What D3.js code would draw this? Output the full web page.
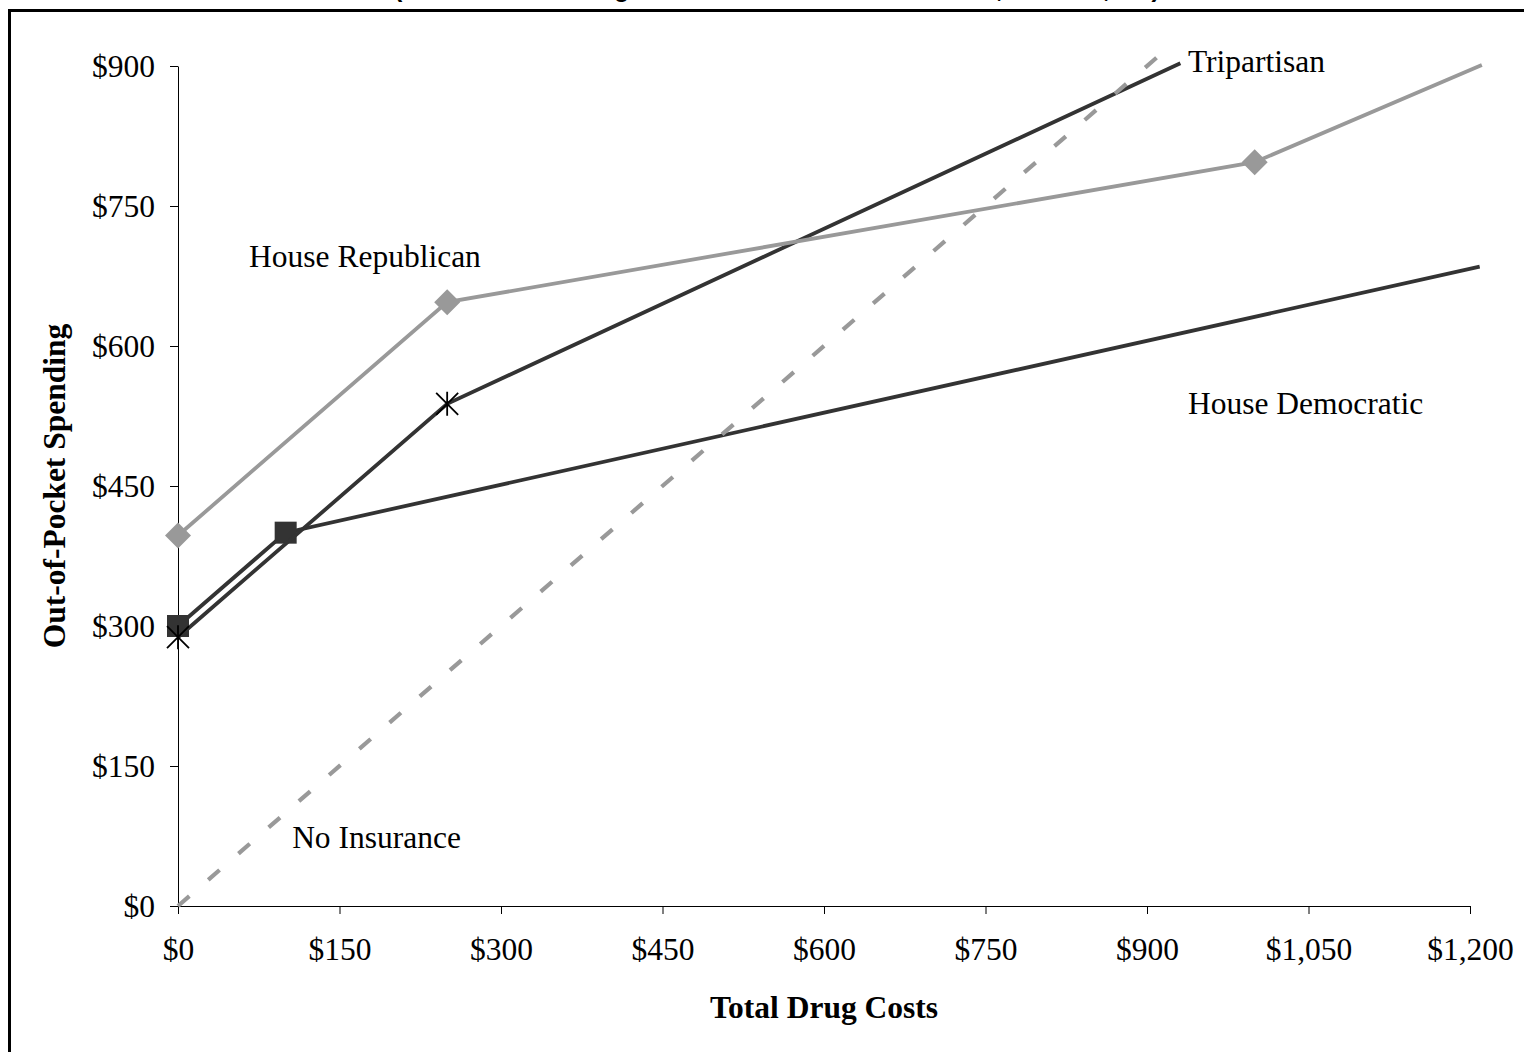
<!DOCTYPE html>
<html>
<head>
<meta charset="utf-8">
<script src="https://cdn.jsdelivr.net/npm/d3@7"></script>
<style>
  body { margin: 0; background: #fff; }
  svg { display: block; }
  .tick text { font-family: "Liberation Serif", "Times New Roman", serif; font-size: 31.5px; fill: #000; }
  .axis path, .axis line { stroke: #000; stroke-width: 1; }
  .series-label { font-family: "Liberation Serif", "Times New Roman", serif; font-size: 31.5px; fill: #000; }
  .axis-title { font-family: "Liberation Serif", "Times New Roman", serif; font-size: 31.5px; font-weight: bold; fill: #000; }
</style>
</head>
<body>
<svg id="chart" width="1524" height="1052"></svg>
<script>
// tick values
const xTicks = [0, 150, 300, 450, 600, 750, 900, 1050, 1200];
const yTicks = [0, 150, 300, 450, 600, 750, 900];

// series: [total drug cost, out-of-pocket spending]
const noInsurance = [[0, 0], [912, 912]];
const houseDemocratic = [[0, 300], [100, 400], [1209, 685]];
const tripartisan = [[0, 288], [250, 538], [931, 903]];
const houseRepublican = [[0, 397], [250, 647], [1000, 797], [1211, 901]];

// how many leading points carry a marker
const houseDemocraticMarked = 2;
const tripartisanMarked = 2;
const houseRepublicanMarked = 3;

// in-chart labels (data coordinates)
const labelNames = ["Tripartisan", "House Republican", "House Democratic", "No Insurance"];
const labelCost = [938, 66, 938, 106];
const labelSpend = [894, 685, 527, 62];

const svg = d3.select("#chart");
const money = d => "$" + d3.format(",")(d);

// outer frame (extends past the window like the original)
svg.append("rect")
  .attr("x", 9.5).attr("y", 10.5)
  .attr("width", 1600).attr("height", 1200)
  .attr("fill", "none").attr("stroke", "#000").attr("stroke-width", 3);

// title, mostly cut off above the frame (as in the source)
svg.append("text")
  .attr("x", 777).attr("y", -3)
  .attr("text-anchor", "middle")
  .style("font-family", "'Liberation Sans', Arial, sans-serif")
  .style("font-weight", "bold")
  .style("font-size", "25px")
  .text("(Beneficiaries' Drug Costs vs. Out-of-Pocket Costs, $0 to $1,000)");

const x = d3.scaleLinear().domain([0, 1200]).range([178, 1470]);
const y = d3.scaleLinear().domain([0, 900]).range([906, 66]);

// axes
svg.append("g")
  .attr("class", "axis")
  .attr("transform", "translate(0,906)")
  .call(d3.axisBottom(x).tickValues(xTicks).tickFormat(money)
    .tickSizeInner(8).tickSizeOuter(0).tickPadding(24));

svg.append("g")
  .attr("class", "axis")
  .attr("transform", "translate(178,0)")
  .call(d3.axisLeft(y).tickValues(yTicks).tickFormat(money)
    .tickSizeInner(8).tickSizeOuter(0).tickPadding(15));

// axis titles
svg.append("text")
  .attr("class", "axis-title")
  .attr("x", 824).attr("y", 1018)
  .attr("text-anchor", "middle")
  .text("Total Drug Costs");

svg.append("text")
  .attr("class", "axis-title")
  .attr("transform", "translate(65,486) rotate(-90)")
  .attr("text-anchor", "middle")
  .text("Out-of-Pocket Spending");

const line = d3.line().x(d => x(d[0])).y(d => y(d[1]));

// House Democratic
svg.append("path")
  .datum(houseDemocratic)
  .attr("d", line)
  .attr("fill", "none").attr("stroke", "#333333").attr("stroke-width", 3.8);

svg.selectAll(".sq")
  .data(houseDemocratic.slice(0, houseDemocraticMarked))
  .enter().append("rect")
  .attr("class", "sq")
  .attr("x", d => x(d[0]) - 11).attr("y", d => y(d[1]) - 11)
  .attr("width", 22).attr("height", 22)
  .attr("fill", "#333333");

// Tripartisan
svg.append("path")
  .datum(tripartisan)
  .attr("d", line)
  .attr("fill", "none").attr("stroke", "#333333").attr("stroke-width", 3.8);

svg.selectAll(".ast")
  .data(tripartisan.slice(0, tripartisanMarked))
  .enter().append("path")
  .attr("class", "ast")
  .attr("transform", d => `translate(${x(d[0])},${y(d[1])})`)
  .attr("d", "M-11,-11L11,11M-11,11L11,-11M0,-12L0,12")
  .attr("fill", "none").attr("stroke", "#000").attr("stroke-width", 1.8);

// House Republican
svg.append("path")
  .datum(houseRepublican)
  .attr("d", line)
  .attr("fill", "none").attr("stroke", "#999999").attr("stroke-width", 3.8);

svg.selectAll(".dia")
  .data(houseRepublican.slice(0, houseRepublicanMarked))
  .enter().append("path")
  .attr("class", "dia")
  .attr("transform", d => `translate(${x(d[0])},${y(d[1])})`)
  .attr("d", "M0,-13L13,0L0,13L-13,0Z")
  .attr("fill", "#999999");

// No Insurance (dashed)
svg.append("path")
  .datum(noInsurance)
  .attr("d", line)
  .attr("fill", "none").attr("stroke", "#999999").attr("stroke-width", 4.2)
  .attr("stroke-dasharray", "15,25");

// series labels
svg.selectAll(".series-label")
  .data(labelNames)
  .enter().append("text")
  .attr("class", "series-label")
  .attr("x", (d, i) => x(labelCost[i]))
  .attr("y", (d, i) => y(labelSpend[i]))
  .text(d => d);
</script>
</body>
</html>
